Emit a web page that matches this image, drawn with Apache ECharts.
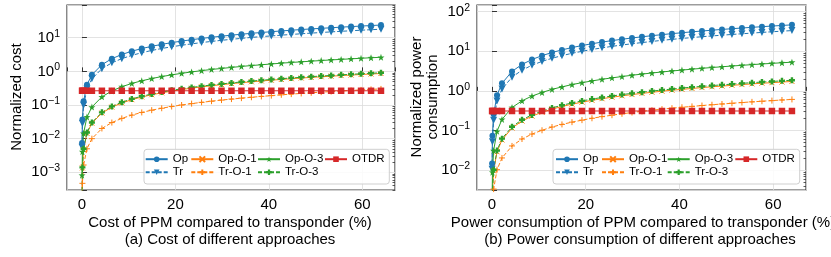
<!DOCTYPE html>
<html><head><meta charset="utf-8">
<script src="https://cdn.jsdelivr.net/npm/echarts@6/dist/echarts.min.js"></script>
<style>html,body{margin:0;padding:0;background:#fff}#c{width:831px;height:257px}</style>
</head><body><div id="c"></div>
<script>
// ---------------- data ----------------
const xValues = [0.02, 0.1, 0.35, 1.07, 2.13, 4.27, 6.4, 8.53, 10.67, 12.8, 14.93, 17.07, 19.2, 21.33, 23.47, 25.6, 27.73, 29.87, 32, 34.13, 36.27, 38.4, 40.53, 42.67, 44.8, 46.93, 49.07, 51.2, 53.33, 55.47, 57.6, 59.73, 61.87, 64];
const seriesNames = ['Op', 'Tr', 'Op-O-1', 'Tr-O-1', 'Op-O-3', 'Tr-O-3', 'OTDR'];

// (a) normalized cost
const costOp    = [0.0074, 0.037, 0.13, 0.40, 0.79, 1.58, 2.38, 3.17, 3.97, 4.76, 5.55, 6.35, 7.14, 7.93, 8.73, 9.52, 10.3, 11.1, 11.9, 12.7, 13.5, 14.3, 15.1, 15.9, 16.7, 17.5, 18.3, 19.0, 19.8, 20.6, 21.4, 22.2, 23.0, 23.8];
const costTr    = [0.0056, 0.028, 0.098, 0.30, 0.60, 1.20, 1.79, 2.39, 2.99, 3.58, 4.18, 4.78, 5.38, 5.97, 6.57, 7.17, 7.76, 8.36, 8.96, 9.56, 10.2, 10.8, 11.3, 11.9, 12.5, 13.1, 13.7, 14.3, 14.9, 15.5, 16.1, 16.7, 17.3, 17.9];
const costOpO1  = [0.00027, 0.00135, 0.0047, 0.0144, 0.0288, 0.0576, 0.0864, 0.115, 0.144, 0.173, 0.202, 0.230, 0.259, 0.288, 0.317, 0.346, 0.374, 0.403, 0.432, 0.461, 0.490, 0.518, 0.547, 0.576, 0.605, 0.634, 0.662, 0.691, 0.720, 0.749, 0.778, 0.806, 0.835, 0.864];
const costTrO1  = [0.000094, 0.00047, 0.00165, 0.0050, 0.0100, 0.0201, 0.0301, 0.0401, 0.0501, 0.0602, 0.0702, 0.0802, 0.0902, 0.100, 0.110, 0.120, 0.130, 0.140, 0.150, 0.160, 0.170, 0.180, 0.190, 0.201, 0.211, 0.221, 0.231, 0.241, 0.251, 0.261, 0.271, 0.281, 0.291, 0.301];
const costOpO3  = [0.00082, 0.0041, 0.0144, 0.044, 0.087, 0.175, 0.262, 0.350, 0.437, 0.525, 0.612, 0.700, 0.787, 0.875, 0.962, 1.05, 1.14, 1.22, 1.31, 1.40, 1.49, 1.57, 1.66, 1.75, 1.84, 1.92, 2.01, 2.10, 2.19, 2.27, 2.36, 2.45, 2.54, 2.62];
const costTrO3  = [0.00028, 0.0014, 0.005, 0.0152, 0.0302, 0.0606, 0.0909, 0.121, 0.152, 0.182, 0.212, 0.242, 0.273, 0.303, 0.333, 0.364, 0.394, 0.424, 0.454, 0.485, 0.515, 0.545, 0.576, 0.606, 0.636, 0.666, 0.697, 0.727, 0.757, 0.788, 0.818, 0.848, 0.879, 0.909];
const costOTDR  = [0.265, 0.265, 0.265, 0.265, 0.265, 0.265, 0.265, 0.265, 0.265, 0.265, 0.265, 0.265, 0.265, 0.265, 0.265, 0.265, 0.265, 0.265, 0.265, 0.265, 0.265, 0.265, 0.265, 0.265, 0.265, 0.265, 0.265, 0.265, 0.265, 0.265, 0.265, 0.265, 0.265, 0.265];

// (b) normalized power consumption
const powerOp   = [0.0146, 0.073, 0.255, 0.78, 1.55, 3.1, 4.65, 6.2, 7.75, 9.3, 10.85, 12.4, 13.95, 15.5, 17.05, 18.6, 20.1, 21.7, 23.2, 24.8, 26.3, 27.9, 29.4, 31.0, 32.5, 34.1, 35.6, 37.2, 38.7, 40.3, 41.8, 43.4, 44.9, 46.5];
const powerTr   = [0.0104, 0.052, 0.182, 0.556, 1.11, 2.22, 3.33, 4.44, 5.55, 6.66, 7.76, 8.88, 9.98, 11.1, 12.2, 13.3, 14.4, 15.5, 16.6, 17.7, 18.9, 20.0, 21.1, 22.2, 23.3, 24.4, 25.5, 26.6, 27.7, 28.8, 30.0, 31.1, 32.2, 33.3];
const powerOpO1 = [0.00054, 0.0027, 0.0095, 0.0289, 0.0575, 0.115, 0.173, 0.230, 0.288, 0.346, 0.403, 0.461, 0.518, 0.576, 0.634, 0.691, 0.749, 0.806, 0.864, 0.922, 0.979, 1.04, 1.09, 1.15, 1.21, 1.27, 1.32, 1.38, 1.44, 1.50, 1.56, 1.61, 1.67, 1.73];
const powerTrO1 = [0.00019, 0.00095, 0.0033, 0.0102, 0.0202, 0.0406, 0.0608, 0.081, 0.101, 0.122, 0.142, 0.162, 0.182, 0.203, 0.223, 0.243, 0.263, 0.284, 0.304, 0.324, 0.345, 0.365, 0.385, 0.405, 0.426, 0.446, 0.466, 0.486, 0.507, 0.527, 0.547, 0.567, 0.588, 0.608];
const powerOpO3 = [0.0018, 0.0088, 0.031, 0.095, 0.19, 0.38, 0.56, 0.74, 0.91, 1.09, 1.26, 1.44, 1.61, 1.78, 1.96, 2.13, 2.30, 2.48, 2.65, 2.83, 3.00, 3.18, 3.35, 3.53, 3.71, 3.89, 4.06, 4.24, 4.42, 4.60, 4.78, 4.95, 5.13, 5.30];
const powerTrO3 = [0.00058, 0.0029, 0.0102, 0.031, 0.062, 0.124, 0.186, 0.247, 0.309, 0.371, 0.433, 0.495, 0.557, 0.619, 0.681, 0.742, 0.804, 0.866, 0.928, 0.990, 1.05, 1.11, 1.18, 1.24, 1.30, 1.36, 1.42, 1.48, 1.55, 1.61, 1.67, 1.73, 1.79, 1.86];
const powerOTDR = [0.31, 0.31, 0.31, 0.31, 0.31, 0.31, 0.31, 0.31, 0.31, 0.31, 0.31, 0.31, 0.31, 0.31, 0.31, 0.31, 0.31, 0.31, 0.31, 0.31, 0.31, 0.31, 0.31, 0.31, 0.31, 0.31, 0.31, 0.31, 0.31, 0.31, 0.31, 0.31, 0.31, 0.31];

// tick labels
const xTickLabels = [0, 20, 40, 60];
const costTickExponents = [-3, -2, -1, 0, 1];
const powerTickExponents = [-2, -1, 0, 1, 2];

// ---------------- styles ----------------
const FONT = '"Liberation Sans", Arial, Helvetica, sans-serif';
const C = {blue: '#1f77b4', orange: '#ff7f0e', green: '#2ca02c', red: '#d62728'};
const SYM = {
  x: 'path://M0,0L10,10M10,0L0,10',
  plus: 'path://M5,0L5,10M0,5L10,5',
  star: 'path://M5,0L6.18,3.38L9.76,3.45L6.9,5.62L7.94,9.05L5,7L2.06,9.05L3.1,5.62L0.24,3.45L3.82,3.38Z',
  fplus: 'path://M3,0H7V3H10V7H7V10H3V7H0V3H3Z'
};
const styleOf = {
  'Op':     {color: C.blue,   dash: 'solid', symbol: 'circle',   size: 6},
  'Tr':     {color: C.blue,   dash: [4, 2],  symbol: 'triangle', size: 7, rotate: 180},
  'Op-O-1': {color: C.orange, dash: 'solid', symbol: SYM.x,      size: 5, stroke: true},
  'Tr-O-1': {color: C.orange, dash: [4, 2],  symbol: SYM.plus,   size: 6, stroke: true},
  'Op-O-3': {color: C.green,  dash: 'solid', symbol: SYM.star,   size: 7},
  'Tr-O-3': {color: C.green,  dash: [4, 2],  symbol: SYM.fplus,  size: 6},
  'OTDR':   {color: C.red,    dash: 'solid', symbol: 'rect',     size: 6.5}
};

const costData = {'Op': costOp, 'Tr': costTr, 'Op-O-1': costOpO1, 'Tr-O-1': costTrO1, 'Op-O-3': costOpO3, 'Tr-O-3': costTrO3, 'OTDR': costOTDR};
const powerData = {'Op': powerOp, 'Tr': powerTr, 'Op-O-1': powerOpO1, 'Tr-O-1': powerTrO1, 'Op-O-3': powerOpO3, 'Tr-O-3': powerTrO3, 'OTDR': powerOTDR};

const grids = [
  {left: 67, top: 5, width: 328, height: 185},
  {left: 477, top: 5, width: 329, height: 185}
];
const yRanges = [[0.000298, 93.8], [0.00313, 147.6]];
const xRange = [-3.2, 67];

function xAxisFor(gi) {
  return {
    type: 'value', gridIndex: gi, min: xRange[0], max: xRange[1], minInterval: 20, maxInterval: 20,
    axisLine: {show: false},
    axisTick: {show: true, inside: true, length: 4, lineStyle: {color: '#333', width: 1}},
    axisLabel: {
      margin: 7, color: '#000', fontSize: 15, fontFamily: FONT,
      formatter: v => xTickLabels.indexOf(v) >= 0 ? String(v) : ''
    },
    splitLine: {show: true, lineStyle: {color: '#dcdcdc', width: 0.8}}
  };
}
function yAxisFor(gi, exps) {
  return {
    type: 'log', gridIndex: gi, logBase: 10, min: yRanges[gi][0], max: yRanges[gi][1],
    axisLine: {show: false},
    axisTick: {show: true, inside: true, length: 5, lineStyle: {color: '#333', width: 1}},
    axisLabel: {
      margin: 7, color: '#000', fontSize: 15, fontFamily: FONT,
      formatter: function (v) {
        const l = Math.log10(v), e = Math.round(l);
        if (Math.abs(l - e) > 1e-6 || exps.indexOf(e) < 0) return '';
        return '10{s|' + (e < 0 ? '\u2212' + (-e) : e) + '}';
      },
      rich: {s: {fontSize: 10.5, fontFamily: FONT, color: '#000', padding: [0, 0, 8, 0]}}
    },
    splitLine: {show: true, lineStyle: {color: '#dcdcdc', width: 0.8}}
  };
}
function minorAxisFor(gi) {
  const lo = Math.log10(yRanges[gi][0]), hi = Math.log10(yRanges[gi][1]);
  const vals = [];
  for (let n = -5; n <= 3; n++) for (let k = 2; k <= 9; k++) {
    const lv = Math.log10(k) + n;
    if (lv > lo && lv < hi) vals.push(lv);
  }
  return {
    type: 'value', gridIndex: gi, min: lo, max: hi,
    axisLine: {show: false}, axisLabel: {show: false}, splitLine: {show: false},
    axisTick: {show: true, inside: true, length: 2.5, customValues: vals, lineStyle: {color: '#333', width: 0.8}}
  };
}

const series = [];
[costData, powerData].forEach((dataset, gi) => {
  seriesNames.forEach(name => {
    const s = styleOf[name];
    series.push({
      name: name, type: 'line', xAxisIndex: gi, yAxisIndex: gi * 2,
      data: xValues.map((x, i) => [x, dataset[name][i]]),
      symbol: s.symbol, symbolSize: s.size, symbolRotate: s.rotate || 0, showAllSymbol: true,
      lineStyle: {color: s.color, width: 1, type: s.dash},
      itemStyle: s.stroke ? {color: s.color, borderColor: s.color, borderWidth: 1} : {color: s.color, borderWidth: 0},
      emphasis: {disabled: true}, clip: true
    });
  });
});

// legends: one per item, arranged like matplotlib's 4-column legend
const legendCols = [[171.7, 217.3, 284, 351], [582, 628, 693.7, 761.3]];
const legendRows = [159.7, 172.7];
const legendLayout = [['Op', 0, 0], ['Op-O-1', 1, 0], ['Op-O-3', 2, 0], ['OTDR', 3, 0], ['Tr', 0, 1], ['Tr-O-1', 1, 1], ['Tr-O-3', 2, 1]];
const legends = [];
legendCols.forEach(cols => {
  legendLayout.forEach(([name, c, r]) => {
    legends.push({
      data: [name], left: cols[c] - 27, top: legendRows[r] - 6.5, padding: 0, itemGap: 0,
      itemWidth: 22, itemHeight: 7, selectedMode: false, z: 10,
      textStyle: {fontSize: 11.5, fontFamily: FONT, color: '#000'}
    });
  });
});

const T = (text, x, y, extra) => Object.assign({
  type: 'text', x: x, y: y, z: 10,
  style: {text: text, font: '15px ' + FONT, fill: '#000', textAlign: 'center', textVerticalAlign: 'middle'}
}, extra || {});

const option = {
  animation: false,
  backgroundColor: '#fff',
  grid: grids.map(g => Object.assign({show: true, borderColor: '#3a3a3a', borderWidth: 1.2, backgroundColor: 'transparent'}, g)),
  xAxis: [xAxisFor(0), xAxisFor(1)],
  yAxis: [yAxisFor(0, costTickExponents), minorAxisFor(0), yAxisFor(1, powerTickExponents), minorAxisFor(1)],
  legend: legends,
  series: series,
  graphic: [
    {type: 'rect', z: 9, shape: {x: 144, y: 149.3, width: 245.3, height: 34.7, r: 3}, style: {fill: 'rgba(255,255,255,0.85)', stroke: '#cfcfcf', lineWidth: 1}},
    {type: 'rect', z: 9, shape: {x: 553, y: 149.3, width: 246.7, height: 34.7, r: 3}, style: {fill: 'rgba(255,255,255,0.85)', stroke: '#cfcfcf', lineWidth: 1}},
    T('Cost of PPM compared to transponder (%)', 230, 223),
    T('(a) Cost of different approaches', 230, 239.5),
    T('Power consumption of PPM compared to transponder (%)', 643, 223),
    T('(b) Power consumption of different approaches', 640, 239.5),
    T('Normalized cost', 16.5, 97, {rotation: Math.PI / 2}),
    Object.assign(T('Normalized power\nconsumption', 425, 97, {rotation: Math.PI / 2}), {}),
  ]
};
option.graphic[7].style.lineHeight = 16;

const chart = echarts.init(document.getElementById('c'), null, {renderer: 'canvas'});
chart.setOption(option);
</script>
</body></html>
